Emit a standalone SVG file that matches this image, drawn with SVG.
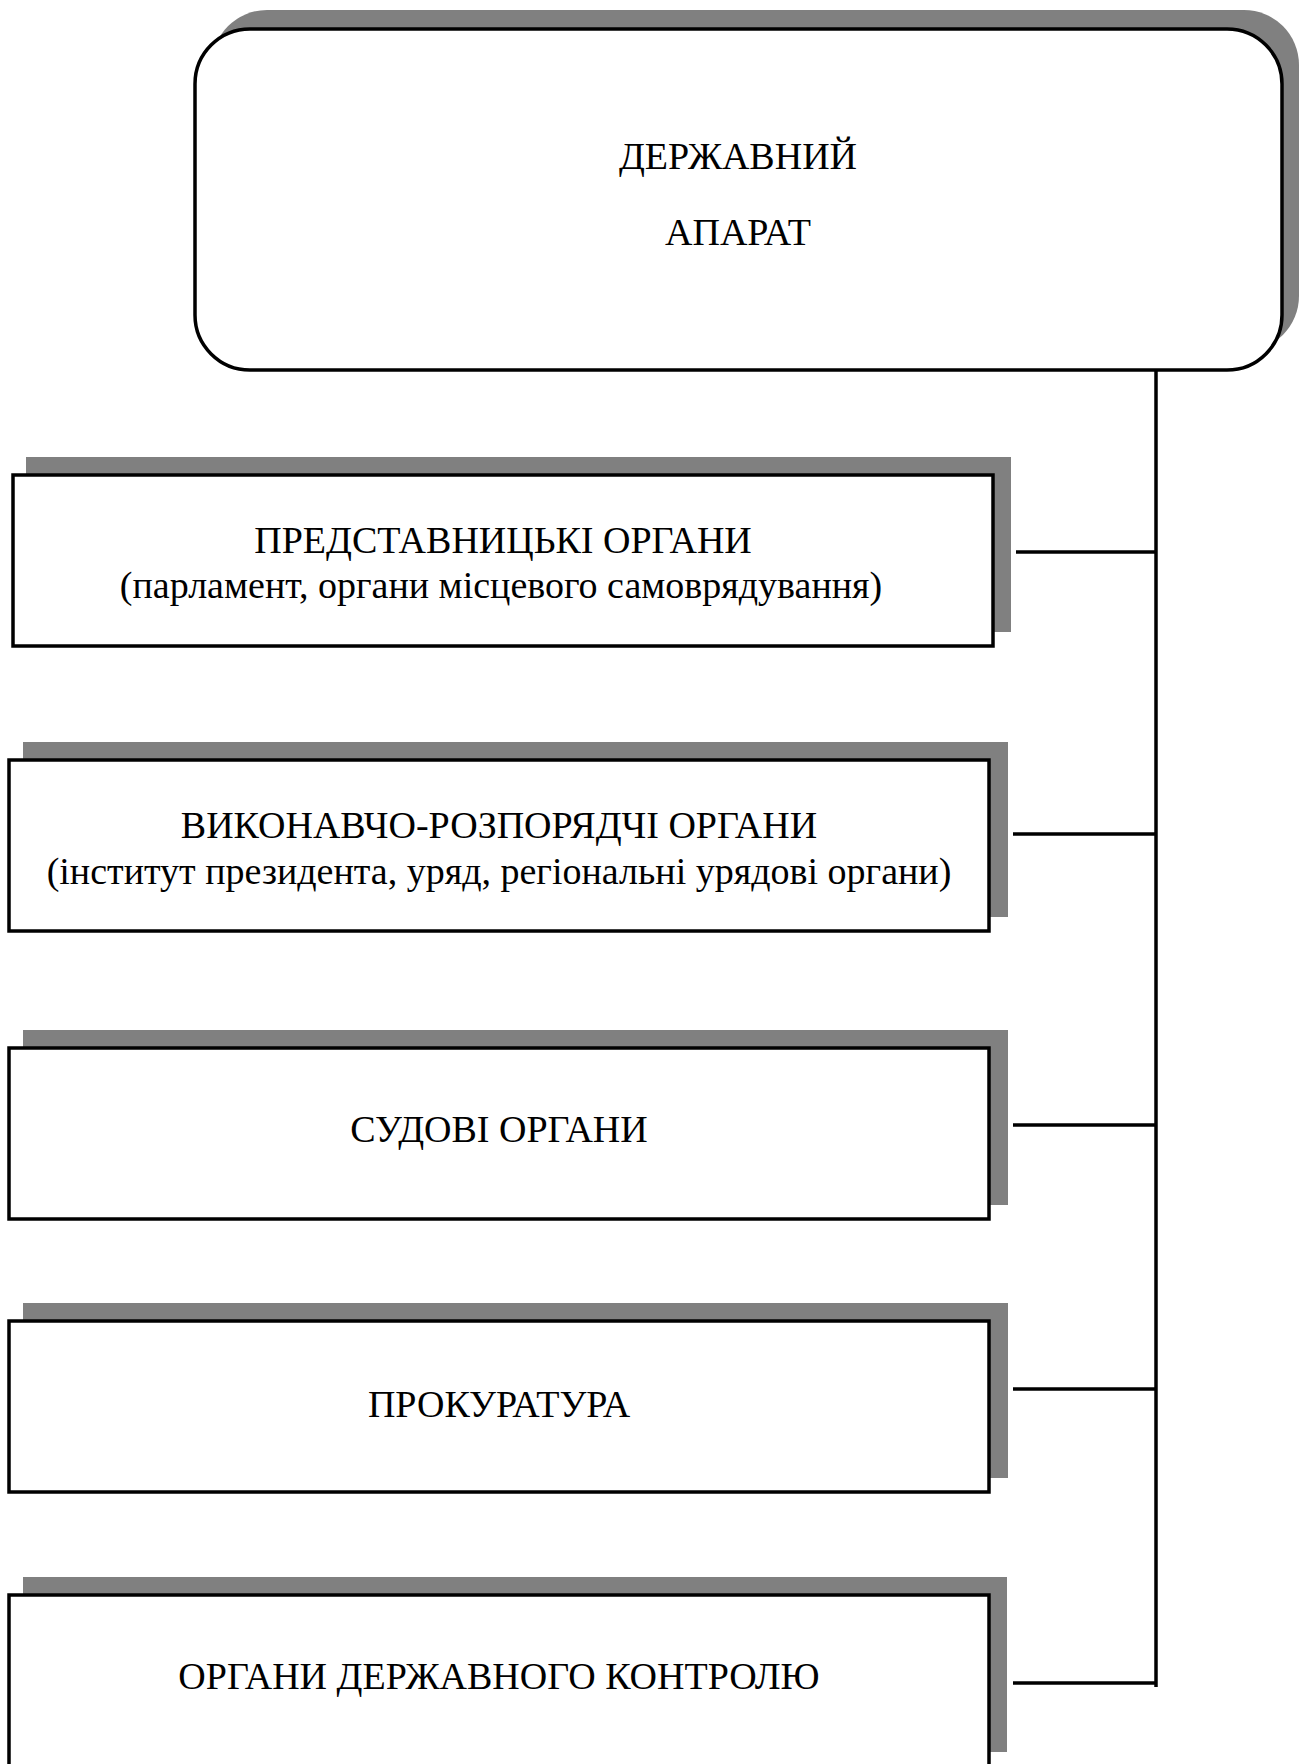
<svg xmlns="http://www.w3.org/2000/svg" width="1303" height="1764" viewBox="0 0 1303 1764">
  <style>
    .shadow { fill: #808080; stroke: none; }
    .box { fill: #ffffff; stroke: #000000; stroke-width: 3.5; }
    .label { font-family: "Liberation Serif", "Times New Roman", serif; font-size: 38px; fill: #000000; text-anchor: middle; }
    .conn { stroke: #000000; stroke-width: 3.5; fill: none; }
  </style>
  <rect width="1303" height="1764" fill="#ffffff"/>

  <!-- root node -->
  <g id="node-apparatus">
    <rect class="shadow" x="212" y="10" width="1087" height="341" rx="55" ry="55"/>
    <rect class="box" x="195" y="29" width="1087" height="341" rx="55" ry="55"/>
    <text class="label" x="738" y="169">ДЕРЖАВНИЙ</text>
    <text class="label" x="738" y="245">АПАРАТ</text>
  </g>

  <g id="node-representative">
    <rect class="shadow" x="26" y="457" width="985" height="175"/>
    <rect class="box" x="13" y="475" width="980" height="171"/>
    <text class="label" x="503" y="553">ПРЕДСТАВНИЦЬКІ ОРГАНИ</text>
    <text class="label" x="501" y="598">(парламент, органи місцевого самоврядування)</text>
  </g>

  <g id="node-executive">
    <rect class="shadow" x="23" y="742" width="985" height="175"/>
    <rect class="box" x="9" y="760" width="980" height="171"/>
    <text class="label" x="499" y="838">ВИКОНАВЧО-РОЗПОРЯДЧІ ОРГАНИ</text>
    <text class="label" x="499" y="884">(інститут президента, уряд, регіональні урядові органи)</text>
  </g>

  <g id="node-judicial">
    <rect class="shadow" x="23" y="1030" width="985" height="175"/>
    <rect class="box" x="9" y="1048" width="980" height="171"/>
    <text class="label" x="499" y="1142">СУДОВІ ОРГАНИ</text>
  </g>

  <g id="node-prosecution">
    <rect class="shadow" x="23" y="1303" width="985" height="175"/>
    <rect class="box" x="9" y="1321" width="980" height="171"/>
    <text class="label" x="499" y="1417">ПРОКУРАТУРА</text>
  </g>

  <g id="node-control">
    <rect class="shadow" x="23" y="1577" width="984" height="175"/>
    <rect class="box" x="9" y="1595" width="980" height="171"/>
    <text class="label" x="499" y="1689">ОРГАНИ ДЕРЖАВНОГО КОНТРОЛЮ</text>
  </g>

  <!-- connectors: vertical trunk and branches to each organ -->
  <g id="connectors">
    <line class="conn" x1="1156" y1="369" x2="1156" y2="1687"/>
    <line class="conn" x1="1016" y1="552" x2="1156" y2="552"/>
    <line class="conn" x1="1013" y1="834" x2="1156" y2="834"/>
    <line class="conn" x1="1013" y1="1125" x2="1156" y2="1125"/>
    <line class="conn" x1="1013" y1="1389" x2="1156" y2="1389"/>
    <line class="conn" x1="1013" y1="1683" x2="1156" y2="1683"/>
  </g>
</svg>
